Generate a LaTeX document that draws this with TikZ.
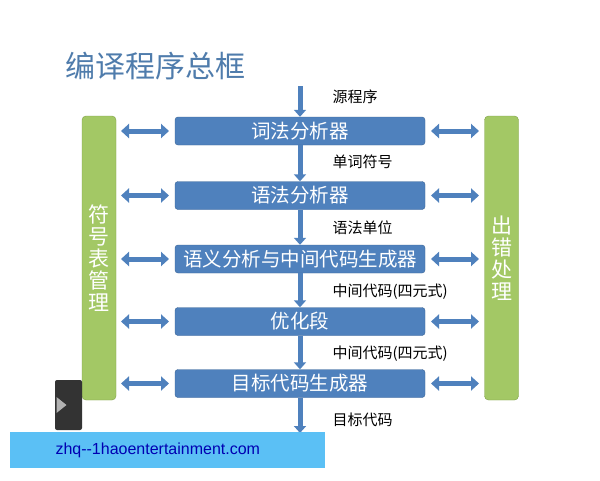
\documentclass[tikz,border=0pt]{standalone}
\usepackage{fontspec}
\setmainfont{Noto Sans CJK SC}
\setsansfont{Liberation Sans}
\usetikzlibrary{arrows.meta,calc}
\definecolor{bbox}{HTML}{4F81BD}
\definecolor{bedge}{HTML}{3A6496}
\definecolor{gbox}{HTML}{A3C865}
\definecolor{gedge}{HTML}{7FA048}
\definecolor{ttl}{HTML}{4F7CAC}
\definecolor{banner}{HTML}{5BC0F5}
\tikzset{
 stagebox/.style={draw=bedge,fill=bbox,rounded corners=3pt,minimum width=250pt,minimum height=28pt,text=white,font=\fontsize{19.5}{19.5}\selectfont,inner sep=0pt},
 sidebox/.style={draw=gedge,fill=gbox,rounded corners=4pt,minimum width=34pt,minimum height=284pt,text=white,font=\fontsize{21}{22}\selectfont,align=center},
 flow/.style={draw=bbox,line width=5pt,-{Triangle[length=7pt,width=12pt]}},
 both/.style={draw=bbox,line width=5pt,{Triangle[length=8pt,width=14pt]}-{Triangle[length=8pt,width=14pt]}},
 lbl/.style={anchor=west,font=\fontsize{15}{15}\selectfont}
}
\begin{document}
\begin{tikzpicture}[x=1pt,y=-1pt]
\useasboundingbox (0,0) rectangle (600,480);
\fill[white] (0,0) rectangle (600,480);
\node[anchor=west,text=ttl,font=\fontsize{30}{30}\selectfont] (title) at (62,66) {编译程序总框};
\node[stagebox] (s1) at (300,131) {词法分析器};
\node[stagebox] (s2) at (300,195.5) {语法分析器};
\node[stagebox] (s3) at (300,259) {语义分析与中间代码生成器};
\node[stagebox] (s4) at (300,321.5) {优化段};
\node[stagebox] (s5) at (300,383.5) {目标代码生成器};
\node[sidebox] (L) at (99,258) {符\\号\\表\\管\\理};
\node[sidebox] (R) at (501.5,258) {出\\错\\处\\理};
\coordinate (top) at (300,86);
\coordinate (bot) at (300,433);
\draw[flow] (top) -- (s1.north);
\draw[flow] (s1.south) -- (s2.north);
\draw[flow] (s2.south) -- (s3.north);
\draw[flow] (s3.south) -- (s4.north);
\draw[flow] (s4.south) -- (s5.north);
\draw[flow] (s5.south) -- (bot);
\node[lbl] (l0) at (329,97) {源程序};
\node[lbl] (l1) at (329,162) {单词符号};
\node[lbl] (l2) at (329,228) {语法单位};
\node[lbl] (l3) at (329,292) {中间代码(四元式)};
\node[lbl] (l4) at (329,354) {中间代码(四元式)};
\node[lbl] (l5) at (329,420) {目标代码};
\foreach \s/\y in {s1/131,s2/195.5,s3/259,s4/321.5,s5/383.5}{
  \coordinate (la\s) at (121,\y); \coordinate (lb\s) at (169,\y);
  \coordinate (ra\s) at (431,\y); \coordinate (rb\s) at (479,\y);
  \draw[both] (la\s) -- (lb\s);
  \draw[both] (ra\s) -- (rb\s);
}
\node[fill=black!80,minimum width=27pt,minimum height=50pt,rounded corners=2pt] (player) at (68.5,405) {};
\fill[gray!60] ($(player.center)+(-12,-8)$) -- ++(10,8) -- ++(-10,8) -- cycle;
\node[fill=banner,minimum width=315pt,minimum height=36pt,inner sep=0pt] (ban) at (167.5,450) {};
\node[anchor=west,text=blue!70!black,font=\fontsize{16}{16}\selectfont\sffamily] (bt) at (52,450) {zhq-{}-1haoentertainment.com};
\end{tikzpicture}
\end{document}
